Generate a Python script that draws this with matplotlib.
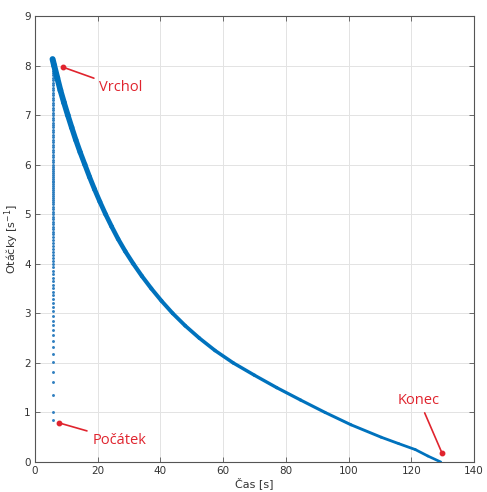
import matplotlib
matplotlib.use("Agg")
import matplotlib.pyplot as plt
from matplotlib.collections import LineCollection
import numpy as np

# ---- data ----
# start-up phase (samples at nearly the same time instant)
start_time = 5.6
start_speed = [
    0.85, 1.01, 1.35, 1.61, 1.82, 2.01, 2.18, 2.33, 2.45, 2.56, 2.66, 2.76,
    2.85, 2.95, 3.04, 3.13, 3.21, 3.29, 3.37, 3.44, 3.51, 3.58, 3.65, 3.72,
    3.79, 3.86, 3.93, 4.00, 4.06, 4.12, 4.18, 4.24, 4.30, 4.36, 4.42, 4.48,
    4.54, 4.60, 4.65, 4.70, 4.75, 4.80, 4.85, 4.90, 4.95, 5.00, 5.05, 5.10,
    5.15, 5.20, 5.24, 5.28, 5.32, 5.36, 5.40, 5.44, 5.48, 5.52, 5.56, 5.60,
    5.64, 5.68, 5.72, 5.76, 5.80, 5.84, 5.88, 5.92, 5.96, 6.00, 6.05, 6.10,
    6.15, 6.20, 6.25, 6.30, 6.35, 6.40, 6.45, 6.50, 6.55, 6.60, 6.65, 6.70,
    6.75, 6.80, 6.85, 6.90, 6.95, 7.00, 7.05, 7.10, 7.15, 7.20, 7.25, 7.30,
    7.35, 7.40, 7.45, 7.50, 7.55, 7.60, 7.65, 7.70, 7.75, 7.80, 7.85, 7.90,
    7.95, 8.00, 8.05, 8.10,
]

# run-down phase
decay_time = [5.6, 6.1, 7.1, 8.1, 9.25, 10.45, 11.7, 13.0, 14.4, 15.9, 17.4,
              19.0, 20.7, 22.5, 24.45, 26.5, 28.8, 31.35, 34.1, 37.1, 40.35,
              43.9, 47.9, 52.4, 57.4, 63.2, 70.0, 77.1, 84.7, 92.5, 100.8,
              110.4, 116.0, 121.3, 125.3, 129.4]
decay_speed = [8.13, 8.0, 7.75, 7.5, 7.25, 7.0, 6.75, 6.5, 6.25, 6.0, 5.75,
               5.5, 5.25, 5.0, 4.75, 4.5, 4.25, 4.0, 3.75, 3.5, 3.25,
               3.0, 2.75, 2.5, 2.25, 2.0, 1.75, 1.5, 1.25, 1.0, 0.75,
               0.5, 0.37, 0.25, 0.12, 0.0]

# annotations: label, point (t, speed), text position (t, speed)
ann_labels = ["Vrchol", "Počátek", "Konec"]
ann_points = [(8.8, 7.97), (7.6, 0.79), (129.8, 0.18)]
ann_text = [(20.5, 7.55), (18.3, 0.44), (122.5, 1.25)]

x_ticks = [0, 20, 40, 60, 80, 100, 120, 140]
y_ticks = [0, 1, 2, 3, 4, 5, 6, 7, 8, 9]

# ---- figure ----
blue = "#0072BD"
red = "#E0242E"
fig = plt.figure(figsize=(4.87, 4.92), dpi=100)
ax = fig.add_axes([0.0719, 0.061, 0.9014, 0.9065])

ax.set_xlim(0, 140)
ax.set_ylim(0, 9)
ax.set_xticks(x_ticks)
ax.set_yticks(y_ticks)
ax.grid(True, color="#E3E3E3", linewidth=0.7)
ax.set_axisbelow(True)

# start-up dots
ax.plot([start_time] * len(start_speed), start_speed, linestyle="none",
        marker="o", markersize=2.1, markeredgewidth=0, color="#2F7FC0",
        zorder=3)

# run-down curve with thickness decreasing along the run
pts = np.column_stack([decay_time, decay_speed])
segs = np.stack([pts[:-1], pts[1:]], axis=1)
mid_speed = 0.5 * (np.array(decay_speed[:-1]) + np.array(decay_speed[1:]))
widths = 1.9 + 0.30 * mid_speed
lc = LineCollection(segs, linewidths=widths, colors=blue, capstyle="round",
                    joinstyle="round", zorder=4)
ax.add_collection(lc)

# annotations
for lab, p, t in zip(ann_labels, ann_points, ann_text):
    ax.plot([p[0]], [p[1]], "o", color=red, markersize=3.2, zorder=6)
    ax.annotate(lab, xy=p, xytext=t, color=red, fontsize=10.5,
                family="Open Sans", ha="left" if lab != "Konec" else "center",
                va="center",
                arrowprops=dict(arrowstyle="-", color=red, lw=1.2,
                                shrinkA=2, shrinkB=0), zorder=6)

for s in ax.spines.values():
    s.set_color("#555555")
    s.set_linewidth(0.8)
ax.tick_params(direction="in", top=True, right=True, length=3.5,
               width=0.6, colors="#555555", labelcolor="#333333",
               labelsize=7.5, pad=3)
ax.set_xlabel("Čas [s]", fontsize=8, color="#333333", labelpad=1)
ax.set_ylabel("Otáčky [s$^{-1}$]", fontsize=8, color="#333333", labelpad=2)

fig.savefig("out.png", dpi=100)
